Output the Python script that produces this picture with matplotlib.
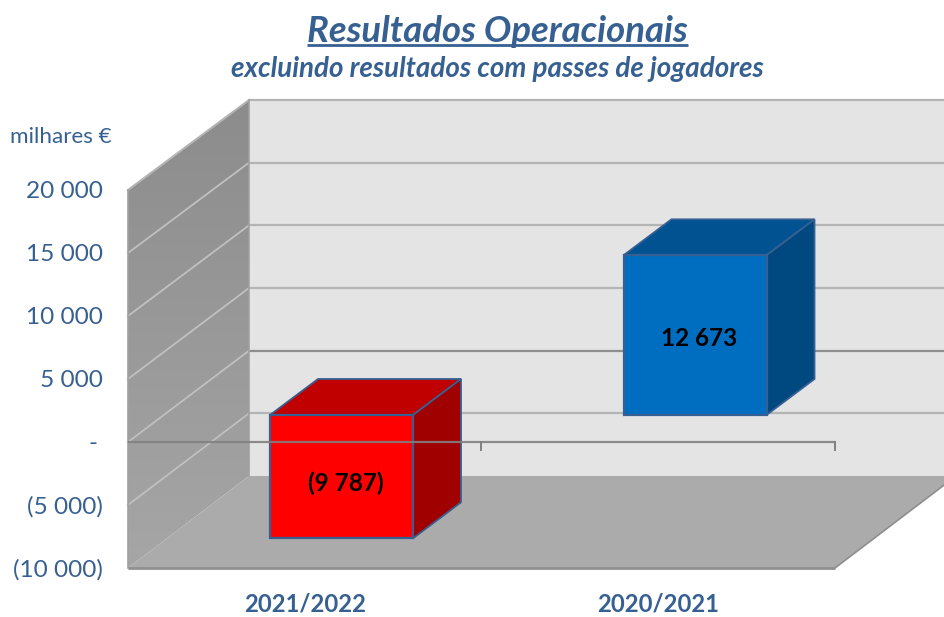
import numpy as np
import matplotlib
matplotlib.use('Agg')
import matplotlib.pyplot as plt
from matplotlib.patches import Polygon

plt.rcParams['font.family'] = ['Lato', 'DejaVu Sans']

categories = ['2021/2022', '2020/2021']
values = [-9787, 12673]
value_labels = ['(9 787)', '12 673']
ticks = [-10000, -5000, 0, 5000, 10000, 15000, 20000]
tick_labels = ['(10 000)', '(5 000)', '-', '5 000', '10 000', '15 000', '20 000']
title = 'Resultados Operacionais'
subtitle = 'excluindo resultados com passes de jogadores'
unit = 'milhares €'

front_col = ['#ff0000', '#006ec0']
top_col = ['#c00000', '#005290']
side_col = ['#a00000', '#004880']
blue_text = '#376092'

W, H = 944, 617
fig = plt.figure(figsize=(W / 100, H / 100), dpi=100)
ax = fig.add_axes([0, 0, 1, 1])
ax.set_xlim(0, W)
ax.set_ylim(H, 0)
ax.axis('off')

# pixel scale of the front plane and of the back wall
x0, x1 = 128, 835
y_min, y_max = 568, 190
back_x = 249
back_min, back_max = 476, 100


def vy(v):
    return y_min + (v - ticks[0]) * (y_max - y_min) / (ticks[-1] - ticks[0])


def by(v):
    return back_min + (v - ticks[0]) * (back_max - back_min) / (ticks[-1] - ticks[0])


# back wall
ax.add_patch(Polygon([(back_x, back_max), (W + 5, back_max), (W + 5, back_min), (back_x, back_min)],
                     fc='#e4e4e4', ec='none', zorder=1))

# left wall with vertical gradient, clipped to the parallelogram
wall = Polygon([(x0, y_min), (x0, y_max), (back_x, back_max), (back_x, back_min)],
               fc='none', ec='none')
ax.add_patch(wall)
grad = np.linspace(0, 1, 256).reshape(-1, 1)
wall_cmap = matplotlib.colors.LinearSegmentedColormap.from_list('w', ['#8c8c8c', '#a6a6a6'])
im = ax.imshow(grad, extent=(x0, back_x, y_min, back_max), cmap=wall_cmap, aspect='auto', zorder=1)
im.set_clip_path(wall)
ax.set_xlim(0, W)
ax.set_ylim(H, 0)

# floor
ax.add_patch(Polygon([(x0, y_min), (x1, y_min), (x1 + back_x - x0, back_min), (back_x, back_min)],
                     fc='#ababab', ec='none', zorder=1))

# gridlines on back and side wall
for t in ticks:
    col = '#8e8e8e' if t == 0 else '#b4b4b4'
    if t != ticks[0]:
        ax.plot([back_x, W + 5], [by(t), by(t)], color=col, lw=1.6, zorder=2, solid_capstyle='butt')
    if t not in (ticks[0], ticks[-1]):
        ax.plot([x0, back_x], [vy(t), by(t)], color='#c0c0c0', lw=1.3, zorder=2)
ax.plot([x0, back_x], [y_max, back_max], color='#b4b4b4', lw=1.5, zorder=2)
ax.plot([back_x, back_x], [back_max, back_min], color='#a0a0a0', lw=1.2, zorder=2)
ax.plot([x0, x0], [y_max, y_min], color='#a0a0a0', lw=1.2, zorder=2)
ax.plot([x0, x1], [y_min, y_min], color='#909090', lw=2, zorder=2, solid_capstyle='butt')
ax.plot([x1, x1 + back_x - x0], [y_min, back_min], color='#8e8e8e', lw=1.2, zorder=2)

# bars
bar_x = [270, 623.5]
bar_w = 143
base_off = -27
ddx, ddy = 48, -36
zero_bar = vy(0) + base_off
scale = (y_max - y_min) / (ticks[-1] - ticks[0])
edge = '#376092'
label_dx = [4, 4]
label_dy = [7, 3]
for i, v in enumerate(values):
    xa, xb = bar_x[i], bar_x[i] + bar_w
    ya = zero_bar
    yb = zero_bar + v * scale
    top, bot = min(ya, yb), max(ya, yb)
    ax.add_patch(Polygon([(xa, top), (xb, top), (xb + ddx, top + ddy), (xa + ddx, top + ddy)],
                         fc=top_col[i], ec=edge, lw=1.3, zorder=3, joinstyle='miter'))
    ax.add_patch(Polygon([(xb, top), (xb + ddx, top + ddy), (xb + ddx, bot + ddy), (xb, bot)],
                         fc=side_col[i], ec=edge, lw=1.3, zorder=3, joinstyle='miter'))
    ax.add_patch(Polygon([(xa, top), (xb, top), (xb, bot), (xa, bot)],
                         fc=front_col[i], ec=edge, lw=1.6, zorder=3, joinstyle='miter'))
    ax.text((xa + xb) / 2 + label_dx[i], (top + bot) / 2 + label_dy[i], value_labels[i],
            ha='center', va='center', fontsize=17.5, fontweight='bold', color='black', zorder=5)

# category axis at zero (drawn over the bars)
y0 = vy(0)
ax.plot([x0, x1], [y0, y0], color='#808080', lw=1.6, alpha=0.9, zorder=4, solid_capstyle='butt')
for xt in [481, x1]:
    ax.plot([xt, xt], [y0, y0 + 8], color='#808080', lw=1.4, zorder=2)

# tick labels
for t, lab in zip(ticks, tick_labels):
    ax.text(103 if t != 0 else 98, vy(t) + 1.5, lab, ha='right', va='center', fontsize=17.6, color=blue_text)
ax.text(112, 137, unit, ha='right', va='center', fontsize=16.2, color=blue_text)

for xc, lab in zip([305.5, 658.5], categories):
    ax.text(xc, 604, lab, ha='center', va='center', fontsize=17.2, fontweight='bold', color=blue_text)

ax.text(497.5, 31, title, ha='center', va='center', fontsize=26.3, fontweight='bold', style='italic', color=blue_text)
ax.plot([307, 688], [45, 45], color=blue_text, lw=2, solid_capstyle='butt')
ax.text(497.5, 69, subtitle, ha='center', va='center', fontsize=20, fontweight='bold', style='italic', color=blue_text)

fig.savefig('out.png', dpi=100)
